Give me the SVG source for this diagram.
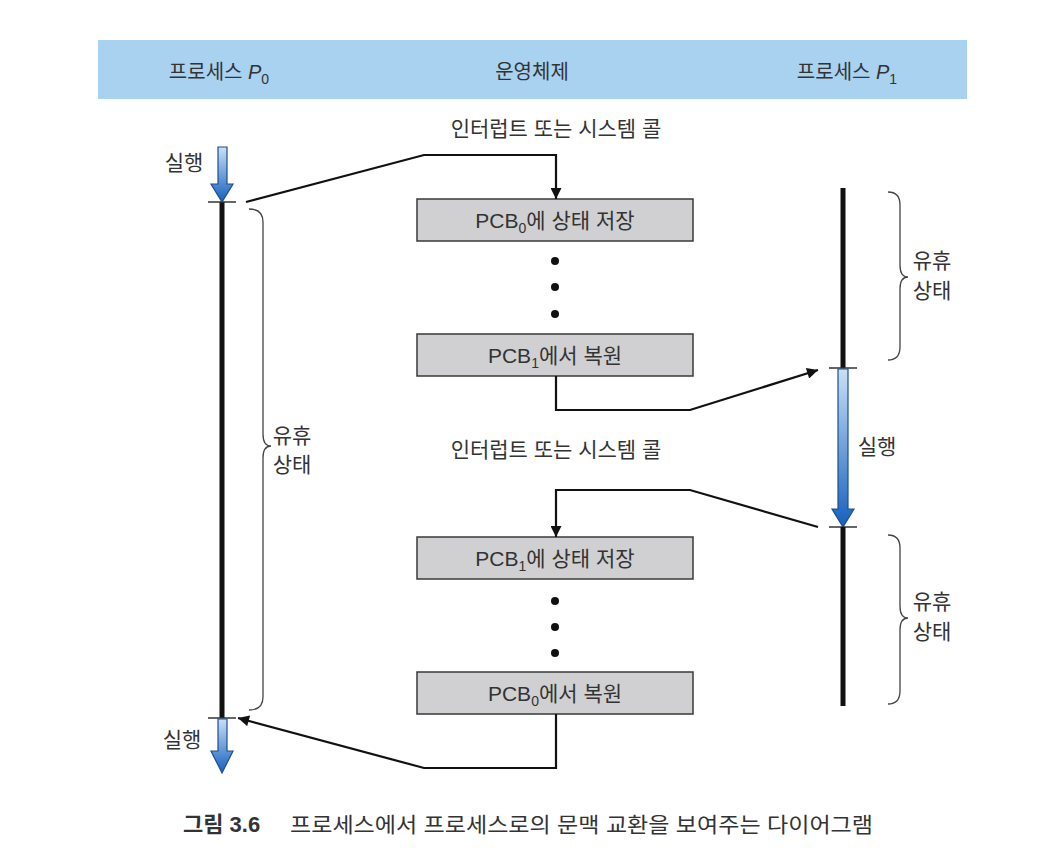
<svg xmlns="http://www.w3.org/2000/svg" width="1042" height="863" viewBox="0 0 1042 863">
<style>
text{font-family:"Liberation Sans","Noto Sans CJK KR",sans-serif;fill:#333;}
.hd{font-size:20px;text-anchor:middle;}
.lb{font-size:21px;text-anchor:middle;}
.box{fill:#d0d0d2;stroke:#3a3a3a;stroke-width:1.5;}
.conn{fill:none;stroke:#111;stroke-width:2.2;}
.tl{stroke:#111;stroke-width:5;}
.tick{stroke:#333;stroke-width:1.5;}
.brace{fill:none;stroke:#444;stroke-width:1.3;}
.run{fill:url(#blue);stroke:#1d4f8a;stroke-width:1.2;}
.dot{fill:#111;}
</style>
<defs>
<linearGradient id="blue" x1="0" y1="0" x2="0" y2="1">
<stop offset="0" stop-color="#c9e0f7"/>
<stop offset="1" stop-color="#1460be"/>
</linearGradient>
<marker id="ah" viewBox="0 0 10 10" refX="10" refY="5" markerWidth="5.5" markerHeight="5" orient="auto" markerUnits="strokeWidth">
<path d="M0,0 L10,5 L0,10 z" fill="#111"/>
</marker>
</defs>

<g id="header">
<rect x="98" y="40" width="869" height="59" fill="#a9d1f0"/>
<text class="hd" x="219" y="79">프로세스 <tspan font-style="italic">P</tspan><tspan font-size="14" dy="5">0</tspan></text>
<text class="hd" x="532" y="79">운영체제</text>
<text class="hd" x="847" y="79">프로세스 <tspan font-style="italic">P</tspan><tspan font-size="14" dy="5">1</tspan></text>
</g>

<g id="labels">
<text class="lb" x="556" y="136">인터럽트 또는 시스템 콜</text>
<text class="lb" x="556" y="457">인터럽트 또는 시스템 콜</text>
</g>

<g id="process-p0">
<path class="run" d="M218,147 L227,147 L227,184 L233,184 L222,202 L211,184 L218,184 z"/>
<text class="lb" x="184" y="170">실행</text>
<line class="tl" x1="222" y1="202" x2="222" y2="718"/>
<line class="tick" x1="208" y1="202" x2="236" y2="202"/>
<line class="tick" x1="208" y1="718" x2="236" y2="718"/>
<path class="run" d="M218,719 L227,719 L227,751 L233,751 L222,773 L211,751 L218,751 z"/>
<text class="lb" x="182" y="747">실행</text>
<path class="brace" d="M249,209 Q263,209 263,222 L263,434 Q263,446 271,446 Q263,446 263,458 L263,697 Q263,710 249,710"/>
<text class="lb" x="292" y="443">유휴</text>
<text class="lb" x="292" y="472">상태</text>
</g>

<g id="process-p1">
<line class="tl" x1="843" y1="188" x2="843" y2="368"/>
<line class="tick" x1="829" y1="368" x2="857" y2="368"/>
<path class="run" d="M838,369 L848,369 L848,509 L854,509 L843,527 L832,509 L838,509 z"/>
<text class="lb" x="877" y="454">실행</text>
<line class="tick" x1="829" y1="527" x2="857" y2="527"/>
<line class="tl" x1="843" y1="527" x2="843" y2="706"/>
<path class="brace" d="M888,192 Q900,192 900,205 L900,265 Q900,277 908,277 Q900,277 900,289 L900,347 Q900,360 888,360"/>
<text class="lb" x="932" y="268">유휴</text>
<text class="lb" x="932" y="298">상태</text>
<path class="brace" d="M888,535 Q900,535 900,548 L900,606 Q900,618 908,618 Q900,618 900,630 L900,691 Q900,704 888,704"/>
<text class="lb" x="932" y="609">유휴</text>
<text class="lb" x="932" y="639">상태</text>
</g>

<g id="save-pcb0">
<rect class="box" x="417" y="199" width="276" height="42"/>
<text class="lb" x="555" y="228">PCB<tspan font-size="14" dy="5">0</tspan><tspan dy="-5">에 상태 저장</tspan></text>
</g>
<g id="dots-1">
<circle class="dot" cx="555" cy="261" r="4"/>
<circle class="dot" cx="555" cy="287" r="4"/>
<circle class="dot" cx="555" cy="314" r="4"/>
</g>
<g id="restore-pcb1">
<rect class="box" x="417" y="334" width="276" height="42"/>
<text class="lb" x="555" y="363">PCB<tspan font-size="14" dy="5">1</tspan><tspan dy="-5">에서 복원</tspan></text>
</g>
<g id="save-pcb1">
<rect class="box" x="417" y="537" width="276" height="42"/>
<text class="lb" x="555" y="566">PCB<tspan font-size="14" dy="5">1</tspan><tspan dy="-5">에 상태 저장</tspan></text>
</g>
<g id="dots-2">
<circle class="dot" cx="555" cy="601" r="4"/>
<circle class="dot" cx="555" cy="627" r="4"/>
<circle class="dot" cx="555" cy="653" r="4"/>
</g>
<g id="restore-pcb0">
<rect class="box" x="417" y="672" width="276" height="42"/>
<text class="lb" x="555" y="701">PCB<tspan font-size="14" dy="5">0</tspan><tspan dy="-5">에서 복원</tspan></text>
</g>

<g id="connectors">
<polyline class="conn" points="246,202 424,155 556,155 556,199" marker-end="url(#ah)"/>
<polyline class="conn" points="556,376 556,410 690,410 818,370" marker-end="url(#ah)"/>
<polyline class="conn" points="818,527 690,490 556,490 556,537" marker-end="url(#ah)"/>
<polyline class="conn" points="556,714 556,768 424,768 238,718" marker-end="url(#ah)"/>
</g>

<g id="caption">
<text x="183" y="832" font-size="22" font-weight="bold" fill="#222">그림 3.6</text>
<text x="290" y="832" font-size="21" textLength="583" lengthAdjust="spacingAndGlyphs">프로세스에서 프로세스로의 문맥 교환을 보여주는 다이어그램</text>
</g>
</svg>
